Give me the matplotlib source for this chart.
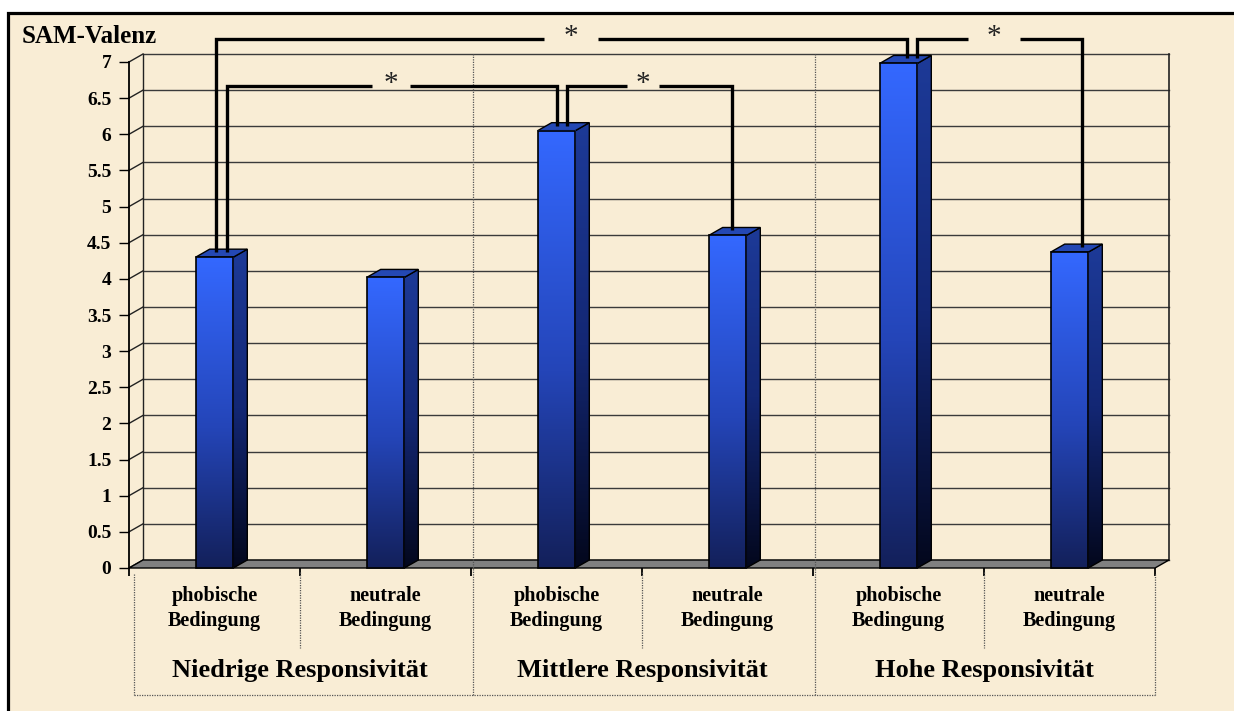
import numpy as np
import matplotlib
matplotlib.use("Agg")
import matplotlib.pyplot as plt
from matplotlib.patches import Polygon, Rectangle
from matplotlib.colors import LinearSegmentedColormap
from matplotlib.ticker import FuncFormatter

# ---------------- data ----------------
conditions = ["phobische\nBedingung", "neutrale\nBedingung",
              "phobische\nBedingung", "neutrale\nBedingung",
              "phobische\nBedingung", "neutrale\nBedingung"]
groups = ["Niedrige Responsivität", "Mittlere Responsivität", "Hohe Responsivität"]
sam_valence = [4.30, 4.02, 6.05, 4.60, 6.98, 4.37]
y_ticks = [0, 0.5, 1, 1.5, 2, 2.5, 3, 3.5, 4, 4.5, 5, 5.5, 6, 6.5, 7]
axis_title = "SAM-Valenz"

# significant comparisons between bars (indices into sam_valence)
sig_pairs = [(0, 2), (2, 3), (0, 4), (4, 5)]
sig_marks = ["*", "*", "*", "*"]

# ---------------- styling / layout ----------------
W, H, DPI = 1234, 711, 100
BG = "#f9edd5"
DEPTH_PX = (14, 8)           # 3-D depth offset of the chart box
BAR_W = 0.22
bracket_level = [6.67, 6.67, 7.32, 7.32]
bracket_nudge = [(0.073, 0.003), (0.061, 0.026), (0.009, 0.05), (0.108, 0.073)]
bracket_gap = [(1.032, 0.111), (2.506, 0.094), (2.085, 0.158), (4.558, 0.152)]
bracket_drop = 0.07

plt.rcParams["font.family"] = ["Liberation Serif", "DejaVu Serif"]
plt.rcParams["font.weight"] = "bold"

fig = plt.figure(figsize=(W / DPI, H / DPI), dpi=DPI, facecolor="white")

# parchment panel with black frame
panel = Rectangle((8 / W, -0.05), 1.2, (H - 13) / H + 0.05, transform=fig.transFigure,
                  facecolor=BG, edgecolor="black", linewidth=2.3, zorder=-10)
fig.patches.append(panel)

# axes: front plane of the 3-D box
x_left_px, x_right_px = 129, 1155
y0_px, y7_px = 568, 62
ymax = 7.8
unit_px = (y0_px - y7_px) / 7.0
ax = fig.add_axes([x_left_px / W, (H - y0_px) / H,
                   (x_right_px - x_left_px) / W, ymax * unit_px / H])
ax.set_facecolor("none")
n = len(sam_valence)
ax.set_xlim(-0.5, n - 0.5)
ax.set_ylim(0, ymax)
for s in ["top", "right", "bottom"]:
    ax.spines[s].set_visible(False)
ax.spines["left"].set_bounds(0, 7)
ax.spines["left"].set_linewidth(1.3)


def px_to_data(dx, dy):
    inv = ax.transData.inverted()
    (xa, ya), (xb, yb) = inv.transform([(0, 0), (dx, dy)])
    return xb - xa, yb - ya


ddx, ddy = px_to_data(*DEPTH_PX)

# y ticks
ax.set_yticks(y_ticks)
ax.yaxis.set_major_formatter(FuncFormatter(lambda v, p: f"{v:g}"))
ax.tick_params(axis="y", length=7.2, width=1.0, pad=5.5, labelsize=14, direction="out")
for lab in ax.get_yticklabels():
    lab.set_fontweight("bold")

# x ticks at category boundaries
ax.set_xticks(np.arange(-0.5, n, 1.0))
ax.tick_params(axis="x", length=6, width=1.3, labelbottom=False)

# back wall gridlines and side wall
xl, xr = -0.5, n - 0.5
for v in y_ticks:
    ax.plot([xl + ddx, xr + ddx], [v + ddy, v + ddy], color="#3a3a3a", lw=1.0,
            zorder=1, clip_on=False)
    ax.plot([xl, xl + ddx], [v, v + ddy], color="#222222", lw=1.0, zorder=1, clip_on=False)
ax.plot([xl + ddx, xl + ddx], [ddy, 7 + ddy], color="#222222", lw=1.0, zorder=1, clip_on=False)
ax.plot([xr + ddx, xr + ddx], [ddy, 7 + ddy], color="#222222", lw=1.2, zorder=1, clip_on=False)

# floor
floor = Polygon([(xl, 0), (xr, 0), (xr + ddx, ddy), (xl + ddx, ddy)], closed=True,
                facecolor="#808080", edgecolor="black", lw=1.0, zorder=2, clip_on=False)
ax.add_patch(floor)

# bars
front_cmap = LinearSegmentedColormap.from_list(
    "front", [(0.0, "#13205a"), (0.45, "#2445b8"), (1.0, "#3468ff")])
side_cmap = LinearSegmentedColormap.from_list(
    "side", [(0.0, "#03071c"), (0.5, "#132774"), (1.0, "#1d3a98")])
grad = np.linspace(0, 1, 256).reshape(-1, 1)

for i, v in enumerate(sam_valence):
    x0, x1 = i - BAR_W / 2, i + BAR_W / 2
    side = Polygon([(x1, 0), (x1 + ddx, ddy), (x1 + ddx, v + ddy), (x1, v)], closed=True,
                   facecolor="none", edgecolor="black", lw=1.0, zorder=3.3, clip_on=False)
    im = ax.imshow(grad, cmap=side_cmap, origin="lower", aspect="auto",
                   extent=[x1, x1 + ddx, 0, v + ddy], zorder=3, interpolation="bilinear")
    clip_poly = Polygon(side.get_xy(), closed=True, transform=ax.transData)
    im.set_clip_path(clip_poly)
    ax.add_patch(side)
    top = Polygon([(x0, v), (x1, v), (x1 + ddx, v + ddy), (x0 + ddx, v + ddy)], closed=True,
                  facecolor="#2448b4", edgecolor="black", lw=1.0, zorder=3.4, clip_on=False)
    ax.add_patch(top)
    ax.imshow(grad, cmap=front_cmap, origin="lower", aspect="auto",
              extent=[x0, x1, 0, v], zorder=3.5, interpolation="bilinear")
    ax.add_patch(Rectangle((x0, 0), BAR_W, v, fill=False, edgecolor="black", lw=1.2,
                           zorder=3.6, clip_on=False))

ax.set_xlim(-0.5, n - 0.5)
ax.set_ylim(0, ymax)

# significance brackets
for k, (a, b) in enumerate(sig_pairs):
    lvl = bracket_level[k]
    xa = a + bracket_nudge[k][0]
    xb = b + bracket_nudge[k][1]
    gc, gw = bracket_gap[k]
    kw = dict(color="black", lw=2.4, zorder=6, clip_on=False,
              solid_joinstyle="miter", solid_capstyle="butt")
    ax.plot([xa, xa, gc - gw], [sam_valence[a] + bracket_drop, lvl, lvl], **kw)
    ax.plot([gc + gw, xb, xb], [lvl, lvl, sam_valence[b] + bracket_drop], **kw)
    ax.text(gc, lvl + 0.02, sig_marks[k], ha="center", va="center", fontsize=21,
            fontweight="normal", color="#222222", zorder=6, clip_on=False)

# category table below the floor
dot = dict(color="#555555", lw=0.9, linestyle=(0, (1, 1)), zorder=2, clip_on=False)
table_bottom = -1.76
sub_bottom = -1.10
ax.plot([-0.47, -0.47], [-0.08, table_bottom], **dot)
ax.plot([xr, xr], [-0.08, table_bottom], **dot)
ax.plot([-0.47, xr], [table_bottom, table_bottom], **dot)
for g in range(1, len(groups)):
    xs = 2 * g - 0.49
    ax.plot([xs, xs], [table_bottom, 7 + ddy], **dot)
for g in range(len(groups)):
    xs = 2 * g + 0.5
    ax.plot([xs, xs], [-0.06, sub_bottom], **dot)

for i, lab in enumerate(conditions):
    ax.text(i, -0.25, lab, ha="center", va="top", fontsize=14.5, fontweight="bold",
            linespacing=1.3, clip_on=False)
for g, lab in enumerate(groups):
    ax.text(2 * g + 0.5, -1.51, lab, ha="center", va="baseline", fontsize=19,
            fontweight="bold", clip_on=False)

fig.text(22 / W, 1 - 43 / H, axis_title, ha="left", va="baseline", fontsize=18,
         fontweight="bold")

fig.savefig("out.png", dpi=DPI, facecolor="white")
